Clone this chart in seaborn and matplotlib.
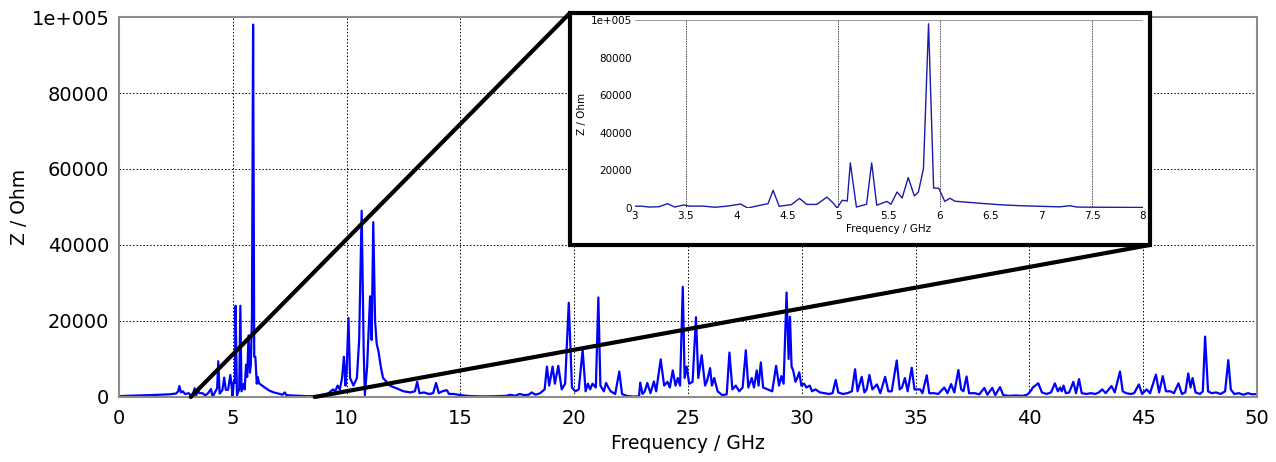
import matplotlib
matplotlib.use("Agg")
import pandas as pd
import seaborn as sns
from matplotlib import pyplot as plt
from matplotlib.patches import Rectangle, ConnectionPatch

# Impedance spectrum (GHz, Ohm)
freq_ghz = [
    0.0, 0.3, 0.6, 1.0, 1.4, 1.8, 2.2, 2.5, 2.6, 2.65, 2.72, 2.8, 2.9,
    3.0, 3.06, 3.14, 3.24, 3.32, 3.39, 3.48, 3.54, 3.67, 3.79, 3.91, 4.04, 4.11,
    4.21, 4.31, 4.36, 4.42, 4.54, 4.62, 4.69, 4.79, 4.89, 4.95, 4.99, 5.04, 5.09,
    5.12, 5.18, 5.28, 5.33, 5.38, 5.48, 5.52, 5.58, 5.63, 5.69, 5.75, 5.79, 5.84,
    5.89, 5.94, 5.99, 6.05, 6.1, 6.15, 6.4, 6.6, 6.8, 7.07, 7.18, 7.28, 7.35,
    7.56, 8.0, 8.3, 8.8, 9.0, 9.2, 9.4, 9.5, 9.6, 9.7, 9.8, 9.88, 9.95, 10.0,
    10.08, 10.15, 10.3, 10.45, 10.55, 10.66, 10.75, 10.8, 10.9, 11.03, 11.1, 11.17,
    11.25, 11.32, 11.4, 11.5, 11.6, 11.75, 11.9, 12.1, 12.3, 12.5, 12.8, 13.0,
    13.1, 13.2, 13.4, 13.6, 13.8, 13.93, 14.05, 14.2, 14.4, 14.5, 14.7, 15.0,
    15.3, 15.6, 16.0, 16.5, 17.0, 17.2, 17.4, 17.6, 17.8, 18.0, 18.13, 18.3,
    18.5, 18.7, 18.8, 18.9, 19.05, 19.15, 19.3, 19.45, 19.6, 19.76, 19.9, 20.05,
    20.2, 20.37, 20.5, 20.6, 20.7, 20.8, 20.95, 21.06, 21.15, 21.3, 21.4, 21.5,
    21.6, 21.8, 21.98, 22.1, 22.3, 22.6, 22.85, 22.9, 23.0, 23.1, 23.21, 23.35,
    23.5, 23.6, 23.8, 23.95, 24.1, 24.2, 24.33, 24.45, 24.55, 24.65, 24.77, 24.85,
    24.94, 25.05, 25.2, 25.35, 25.45, 25.6, 25.75, 25.85, 25.97, 26.05, 26.15,
    26.3, 26.5, 26.7, 26.82, 26.95, 27.1, 27.25, 27.4, 27.54, 27.65, 27.8, 27.9,
    28.02, 28.1, 28.2, 28.3, 28.5, 28.7, 28.87, 29.0, 29.1, 29.2, 29.33, 29.42,
    29.48, 29.55, 29.62, 29.72, 29.8, 29.89, 29.98, 30.1, 30.2, 30.35, 30.45,
    30.6, 30.8, 31.0, 31.2, 31.35, 31.49, 31.6, 31.8, 32.0, 32.2, 32.34, 32.45,
    32.63, 32.75, 32.85, 32.97, 33.1, 33.3, 33.45, 33.66, 33.8, 33.95, 34.17,
    34.3, 34.4, 34.53, 34.65, 34.83, 34.95, 35.2, 35.3, 35.49, 35.6, 35.8, 36.0,
    36.1, 36.26, 36.4, 36.56, 36.7, 36.88, 37.0, 37.1, 37.24, 37.35, 37.6, 37.8,
    38.02, 38.15, 38.37, 38.5, 38.71, 38.85, 39.1, 39.4, 39.7, 39.9, 40.05, 40.15,
    40.39, 40.55, 40.75, 40.95, 41.12, 41.25, 41.35, 41.42, 41.5, 41.6, 41.75,
    41.93, 42.05, 42.18, 42.3, 42.5, 42.7, 42.9, 43.05, 43.2, 43.35, 43.61, 43.75,
    43.98, 44.1, 44.25, 44.45, 44.6, 44.81, 44.95, 45.15, 45.3, 45.56, 45.7,
    45.86, 46.0, 46.2, 46.35, 46.55, 46.7, 46.85, 46.98, 47.08, 47.17, 47.3,
    47.5, 47.62, 47.72, 47.85, 48.0, 48.2, 48.4, 48.6, 48.74, 48.85, 49.0, 49.2,
    49.4, 49.6, 49.8, 50.0,
]
z_ohm = [
    200, 300, 350, 400, 500, 600, 700, 900, 1500, 2900, 1200, 1500, 800,
    900, 1000, 500, 700, 2300, 500, 1600, 1000, 1000, 400, 1000, 2100, 0,
    1200, 2300, 9400, 900, 1800, 5100, 1900, 1900, 5800, 2700, 0, 4100, 3700,
    24000, 500, 2000, 24000, 1500, 3500, 2000, 8500, 5300, 16200, 6400, 8500, 21000,
    98000, 10600, 10500, 3500, 5200, 3600, 2500, 1700, 1200, 800, 600, 1200, 500,
    400, 300, 200, 300, 600, 1000, 2000, 1500, 3000, 2000, 5000, 10600, 3000, 7000,
    20800, 5000, 3000, 5000, 15000, 49000, 12000, 500, 8000, 26500, 15000, 46000,
    20000, 14000, 12000, 8000, 5000, 4000, 3000, 2500, 2000, 1500, 1200, 1500,
    4000, 1000, 1200, 800, 1000, 3700, 1000, 1500, 1800, 800, 800, 500,
    300, 200, 150, 200, 300, 600, 300, 800, 500, 600, 1200, 600,
    1000, 2000, 8000, 3000, 8000, 3500, 8200, 2000, 3500, 24800, 2500, 1500,
    2000, 12400, 1500, 3500, 2000, 3500, 2500, 26200, 3000, 1500, 3700, 2500,
    1500, 800, 6700, 800, 300, 100, 200, 3800, 800, 1500, 3700, 1000,
    4100, 1500, 9900, 3000, 4000, 2500, 7000, 3000, 5000, 3000, 29000, 5000,
    8000, 3500, 4000, 21000, 5000, 11000, 3000, 4500, 7600, 3000, 5000,
    1500, 500, 700, 11700, 2000, 3000, 1500, 2500, 12300, 2500, 5000, 2500,
    7000, 3000, 9100, 2500, 2000, 1500, 8200, 3000, 5500, 3500, 27500, 10000,
    21100, 8000, 7000, 4000, 5000, 6500, 3000, 3500, 2500, 3000, 1500,
    2000, 1200, 1000, 800, 1000, 4500, 1200, 800, 1000, 1500, 7300, 1500,
    5300, 1200, 2000, 5800, 2000, 3300, 1000, 5300, 1500, 1500, 9600,
    2000, 2500, 5000, 1500, 7700, 2000, 2000, 1000, 5700, 1000, 1000, 800,
    1500, 2500, 1000, 3400, 1200, 7100, 2000, 1500, 5400, 1000, 1000, 700,
    2400, 600, 2400, 500, 2600, 500, 300, 400, 300, 600, 1500, 2500,
    3600, 1200, 800, 1200, 3600, 1500, 2500, 1500, 3000, 1000, 1200,
    4000, 1000, 4700, 1000, 800, 1000, 800, 1200, 2000, 1000, 2900, 1200,
    6700, 1500, 1000, 800, 1000, 3300, 800, 2000, 1000, 5900, 1200,
    5500, 1500, 1500, 1000, 3600, 800, 1200, 6200, 2500, 5000, 1200,
    800, 1500, 15900, 1500, 1000, 1200, 800, 1500, 9700, 2000, 800, 1000,
    600, 1000, 700, 800,
]

x_ticks = [0, 5, 10, 15, 20, 25, 30, 35, 40, 45, 50]
y_ticks = [0, 20000, 40000, 60000, 80000, 100000]
y_tick_labels = ["0", "20000", "40000", "60000", "80000", "1e+005"]

zoom_ticks = [3, 3.5, 4, 4.5, 5, 5.5, 6, 6.5, 7, 7.5, 8]
zoom_tick_labels = ["3", "3.5", "4", "4.5", "5", "5.5", "6", "6.5", "7", "7.5", "8"]
zoom_grid = [3.5, 5, 6, 7.5]
link_start = [3.15, 8.6]

sns.set_style("white")
plt.rcParams["font.family"] = ["DejaVu Sans"]
plt.rcParams["text.color"] = "black"
plt.rcParams["axes.labelcolor"] = "black"
plt.rcParams["xtick.color"] = "black"
plt.rcParams["ytick.color"] = "black"

data = pd.DataFrame({"Frequency / GHz": freq_ghz, "Z / Ohm": z_ohm})

fig = plt.figure(figsize=(12.76, 4.62), dpi=100)

# main spectrum
ax = fig.add_axes([0.0933, 0.1407, 0.8918, 0.8225])
sns.lineplot(data=data, x="Frequency / GHz", y="Z / Ohm", ax=ax,
             color="#0000ff", linewidth=1.6, sort=False)
ax.set_xlim(0, 50)
ax.set_ylim(0, 100000)
ax.set_xticks(x_ticks)
ax.set_yticks(y_ticks, y_tick_labels)
ax.tick_params(length=0, labelsize=14)
ax.tick_params(axis="x", pad=9)
ax.tick_params(axis="y", pad=7)
ax.grid(True, color="black", linestyle=(0, (1.5, 2)), linewidth=0.7)
ax.set_axisbelow(True)
for s in ax.spines.values():
    s.set_color("#8c8c8c")
    s.set_linewidth(1.5)
ax.set_xlabel("Frequency / GHz", fontsize=13.5, labelpad=4)
ax.set_ylabel("Z / Ohm", fontsize=13.5)
ax.yaxis.set_label_coords(-0.079, 0.5)

# zoom box
frame = (0.4467, 0.4697, 0.4545, 0.5022)
fig.add_artist(Rectangle(frame[:2], frame[2], frame[3], transform=fig.transFigure,
                         facecolor="white", edgecolor="black", linewidth=3, zorder=5))

ins = fig.add_axes([0.4976, 0.5498, 0.3981, 0.4069])
ins.set_zorder(6)
sns.lineplot(data=data, x="Frequency / GHz", y="Z / Ohm", ax=ins,
             color="#1c1ca8", linewidth=1.0, sort=False)
ins.set_xlim(3, 8)
ins.set_ylim(0, 100000)
ins.set_xticks(zoom_ticks, zoom_tick_labels)
ins.set_yticks(y_ticks, y_tick_labels)
ins.tick_params(length=0, labelsize=7.5, pad=2)
for s in ins.spines.values():
    s.set_visible(False)
for g in zoom_grid:
    ins.axvline(g, color="black", linestyle=(0, (1, 1)), linewidth=0.6, zorder=0)
ins.axhline(100000, color="#8c8c8c", linewidth=1.2)
ins.set_xlabel("Frequency / GHz", fontsize=7.5, labelpad=2)
ins.set_ylabel("Z / Ohm", fontsize=7.5, labelpad=3)

# lines tying the zoomed range to the box
corners = [(frame[0], frame[1] + frame[3]), (frame[0] + frame[2], frame[1])]
for f0, corner in zip(link_start, corners):
    con = ConnectionPatch(xyA=(f0, 0), coordsA=ax.transData,
                          xyB=corner, coordsB=fig.transFigure,
                          color="black", linewidth=3, zorder=7)
    fig.add_artist(con)

fig.savefig("out.png", dpi=100)
